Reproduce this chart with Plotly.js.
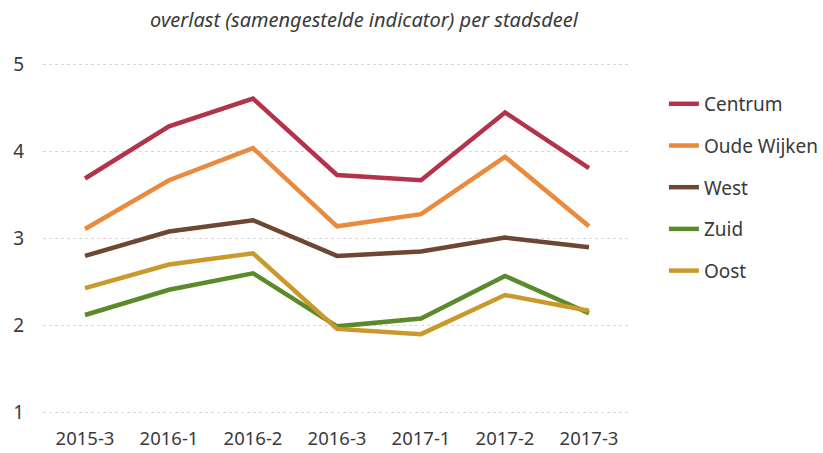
<!DOCTYPE html>
<html>
<head>
<meta charset="utf-8">
<script src="https://cdn.plot.ly/plotly-3.0.1.min.js"></script>
<style>html,body{margin:0;padding:0;background:#fff;}#chart{width:823px;height:453px;}</style>
</head>
<body>
<div id="chart"></div>
<script>
const periods = ["2015-3","2016-1","2016-2","2016-3","2017-1","2017-2","2017-3"];
const centrum = [3.69, 4.29, 4.61, 3.73, 3.67, 4.45, 3.81];
const oudeWijken = [3.11, 3.67, 4.04, 3.14, 3.28, 3.94, 3.14];
const west = [2.80, 3.08, 3.21, 2.80, 2.85, 3.01, 2.90];
const zuid = [2.12, 2.41, 2.60, 1.99, 2.08, 2.57, 2.14];
const oost = [2.43, 2.70, 2.83, 1.96, 1.90, 2.35, 2.17];
const seriesNames = ["Centrum","Oude Wijken","West","Zuid","Oost"];
const seriesData = [centrum, oudeWijken, west, zuid, oost];
const colors = ["#b3344a","#e98a3c","#6d4733","#5b8a2b","#c9992b"];

const traces = seriesData.map((vals, i) => ({
  x: periods, y: vals, type: "scatter", mode: "lines",
  name: seriesNames[i], legendgroup: "g" + i,
  line: {color: colors[i], width: 4.5}
}));

const layout = {
  width: 823, height: 453,
  margin: {l: 43, r: 192, t: 62, b: 38, autoexpand: false},
  paper_bgcolor: "#fff", plot_bgcolor: "#fff",
  font: {family: "Noto Sans, Open Sans, sans-serif", size: 18, color: "#3a3a3a"},
  title: {text: "<i>overlast (samengestelde indicator) per stadsdeel</i>",
          x: 364/823, xanchor: "center", xref: "container",
          y: 0.955, yanchor: "middle",
          font: {family: "Noto Sans, sans-serif", size: 20, color: "#3a3a3a"}},
  xaxis: {type: "category", range: [-0.5, 6.5], showgrid: false, zeroline: false,
          showline: false, ticks: "outside", ticklen: 7, tickcolor: "rgba(0,0,0,0)",
          tickfont: {size: 18.5, color: "#3a3a3a"}},
  yaxis: {range: [0.97, 5.03], tickvals: [1,2,3,4,5], showgrid: true, gridcolor: "#dcd3dc",
          griddash: "dot", gridwidth: 1, zeroline: false, showline: false,
          ticks: "outside", ticklen: 14, tickcolor: "rgba(0,0,0,0)",
          tickfont: {size: 19, color: "#3a3a3a"}},
  legend: {x: 1.056, xanchor: "left", y: 0.935, yanchor: "top",
           traceorder: "grouped", tracegroupgap: 14,
           font: {size: 19, color: "#3a3a3a"}, bgcolor: "rgba(0,0,0,0)"},
  showlegend: true
};

Plotly.newPlot("chart", traces, layout, {displayModeBar: false, staticPlot: true});
</script>
</body>
</html>
